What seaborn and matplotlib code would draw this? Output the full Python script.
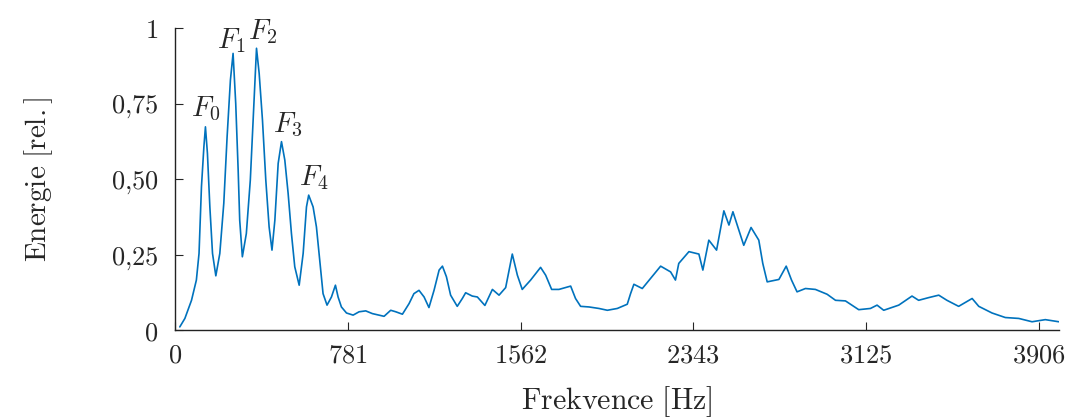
import numpy as np
import pandas as pd
import matplotlib
matplotlib.use("Agg")
import matplotlib.pyplot as plt
import seaborn as sns

# Spectrum samples: frequency [Hz] and relative energy
freq_hz = [21, 44, 74, 96, 108, 119, 130, 137, 146, 157, 169, 184, 202, 220, 235,
           250, 262, 274, 285, 292, 304, 322, 340, 356, 368, 380, 395, 410, 425,
           438, 451, 466, 481, 496, 511, 526, 541, 561, 579, 594, 604, 624, 639,
           654, 669, 687, 707, 725, 737, 752, 775, 805, 832, 862, 892, 922, 945,
           975, 998, 1028, 1058, 1080, 1103, 1126, 1148, 1171, 1194, 1209, 1227,
           1246, 1276, 1299, 1314, 1344, 1367, 1401, 1435, 1465, 1495, 1525, 1548,
           1570, 1608, 1653, 1676, 1703, 1736, 1789, 1811, 1834, 1872, 1917, 1955,
           2000, 2045, 2060, 2075, 2113, 2150, 2196, 2241, 2263, 2278, 2324, 2369,
           2387, 2414, 2449, 2482, 2505, 2523, 2550, 2572, 2605, 2640, 2658, 2678,
           2731, 2764, 2788, 2813, 2851, 2896, 2949, 2987, 3032, 3092, 3145, 3175,
           3205, 3273, 3333, 3363, 3409, 3454, 3491, 3544, 3605, 3635, 3695, 3755,
           3816, 3876, 3936, 3997]
energy = [0.011, 0.039, 0.099, 0.166, 0.254, 0.475, 0.607, 0.673, 0.585, 0.408,
          0.254, 0.18, 0.254, 0.42, 0.64, 0.828, 0.916, 0.75, 0.53, 0.364, 0.243,
          0.32, 0.497, 0.75, 0.933, 0.85, 0.695, 0.497, 0.342, 0.265, 0.364, 0.552,
          0.624, 0.563, 0.453, 0.32, 0.21, 0.149, 0.254, 0.408, 0.447, 0.408, 0.342,
          0.232, 0.121, 0.083, 0.11, 0.149, 0.11, 0.077, 0.057, 0.05, 0.061, 0.064,
          0.055, 0.05, 0.046, 0.066, 0.061, 0.053, 0.088, 0.121, 0.132, 0.11, 0.075,
          0.132, 0.199, 0.212, 0.177, 0.116, 0.079, 0.105, 0.124, 0.113, 0.11, 0.082,
          0.135, 0.116, 0.141, 0.252, 0.182, 0.135, 0.166, 0.208, 0.182, 0.135,
          0.135, 0.146, 0.105, 0.079, 0.077, 0.072, 0.066, 0.072, 0.086, 0.121,
          0.152, 0.138, 0.171, 0.212, 0.193, 0.166, 0.221, 0.26, 0.252, 0.199, 0.298,
          0.265, 0.395, 0.348, 0.392, 0.331, 0.281, 0.34, 0.298, 0.221, 0.16, 0.168,
          0.212, 0.166, 0.127, 0.138, 0.135, 0.119, 0.099, 0.097, 0.068, 0.072,
          0.083, 0.066, 0.083, 0.113, 0.099, 0.108, 0.116, 0.099, 0.079, 0.105,
          0.079, 0.057, 0.042, 0.039, 0.028, 0.035, 0.028]

x_ticks = [0, 781.25, 1562.5, 2343.75, 3125, 3906.25]
x_tick_labels = ["0", "781", "1562", "2343", "3125", "3906"]
y_ticks = [0, 0.25, 0.5, 0.75, 1]
y_tick_labels = ["0", "0{,}25", "0{,}50", "0{,}75", "1"]

# Formant labels, the frequencies of the peaks they mark, and label nudges (px)
formant_names = ["F_0", "F_1", "F_2", "F_3", "F_4"]
formant_hz = [137, 262, 368, 481, 604]
formant_dx = [0, -2, 6, 6, 5]
formant_dy = [4, -2, 2, 3, 3]

sns.set_style("ticks")
plt.rcParams["mathtext.fontset"] = "cm"
plt.rcParams["font.family"] = ["DejaVu Serif"]

df = pd.DataFrame({"f": freq_hz, "e": energy})

fig = plt.figure(figsize=(10.68, 4.18), dpi=100)
ax = fig.add_axes([0.164, 0.21, 0.828, 0.723])
sns.lineplot(data=df, x="f", y="e", ax=ax, color="#0072BD", linewidth=1.2)

ax.set_xlim(0, 4000)
ax.set_ylim(0, 1)
ax.set_xticks(x_ticks)
ax.set_xticklabels([f"${t}$" for t in x_tick_labels])
ax.set_yticks(y_ticks)
ax.set_yticklabels([f"${t}$" for t in y_tick_labels])
ax.tick_params(direction="in", length=6, width=0.8, labelsize=19)
ax.tick_params(axis="x", pad=9)
ax.tick_params(axis="y", pad=12)
for s in ("top", "right"):
    ax.spines[s].set_visible(False)
for s in ("left", "bottom"):
    ax.spines[s].set_linewidth(1.0)
    ax.spines[s].set_color("#222222")

ax.set_xlabel(r"$\mathrm{Frekvence\ [Hz]}$", fontsize=21.5, labelpad=12)
ax.set_ylabel(r"$\mathrm{Energie\ [rel.]}$", fontsize=21, labelpad=40)

lookup = dict(zip(freq_hz, energy))
for name, hz, dx, dy in zip(formant_names, formant_hz, formant_dx, formant_dy):
    ax.annotate(f"${name}$", xy=(hz, lookup[hz]), xytext=(dx, dy),
                textcoords="offset pixels", ha="center", va="bottom", fontsize=20.5)

fig.savefig("out.png", dpi=100)
